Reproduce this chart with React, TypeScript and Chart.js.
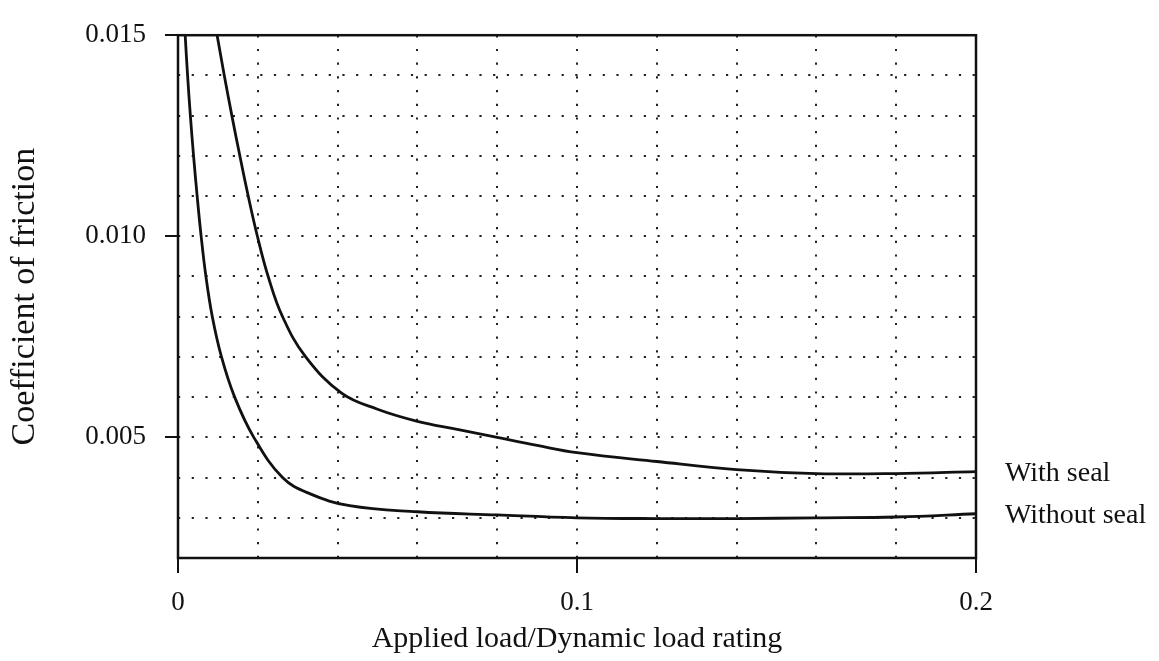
import React, { useEffect, useRef } from 'react';
import { Chart, registerables } from 'chart.js';

Chart.register(...registerables);

// Series: "With seal" (upper curve)
const withSealX = [0.0098, 0.0116, 0.0135, 0.0155, 0.0176, 0.0199, 0.0226, 0.0262, 0.0320, 0.0410, 0.050, 0.060, 0.070, 0.080, 0.090, 0.100, 0.120, 0.140, 0.160, 0.180, 0.200];
const withSealY = [0.0150, 0.0140, 0.0130, 0.0120, 0.0110, 0.0100, 0.0090, 0.0080, 0.0070, 0.0061, 0.0057, 0.0054, 0.0052, 0.0050, 0.0048, 0.00462, 0.0044, 0.0042, 0.0041, 0.0041, 0.00415];

// Series: "Without seal" (lower curve)
const withoutSealX = [0.0018, 0.0024, 0.0031, 0.0039, 0.0048, 0.0058, 0.0070, 0.0086, 0.0109, 0.0142, 0.0190, 0.0262, 0.033, 0.043, 0.060, 0.080, 0.100, 0.120, 0.140, 0.160, 0.180, 0.200];
const withoutSealY = [0.0150, 0.0140, 0.0130, 0.0120, 0.0110, 0.0100, 0.0090, 0.0080, 0.0070, 0.0060, 0.0050, 0.0040, 0.0036, 0.0033, 0.00315, 0.00307, 0.0030, 0.00298, 0.00298, 0.0030, 0.00302, 0.0031];

const seriesLabels = ['With seal', 'Without seal'];
const xTickLabels = ['0', '0.1', '0.2'];
const yTickLabels = ['0.005', '0.010', '0.015'];
const xTitle = 'Applied load/Dynamic load rating';
const yTitle = 'Coefficient of friction';

const X_MIN = 0;
const X_MAX = 0.2;
const X_STEP = 0.02;
const Y_MIN = 0.002;
const Y_MAX = 0.015;
const Y_STEP = 0.001;

const SERIF = '"Liberation Serif", "Times New Roman", serif';
const INK = '#111111';
const DOT = '#222222';

function findLabel(labels: string[], v: number): string {
  for (const l of labels) {
    if (Math.abs(parseFloat(l) - v) < 1e-9) return l;
  }
  return '';
}

const framePlugin = {
  id: 'frame',
  afterDraw(chart: any) {
    const { ctx, chartArea } = chart;
    ctx.save();
    ctx.strokeStyle = INK;
    ctx.lineWidth = 2.5;
    ctx.strokeRect(chartArea.left, chartArea.top, chartArea.right - chartArea.left, chartArea.bottom - chartArea.top);
    ctx.restore();
  },
};

const seriesLabelPlugin = {
  id: 'seriesLabels',
  afterDatasetsDraw(chart: any) {
    const { ctx, chartArea } = chart;
    ctx.save();
    ctx.font = `28px ${SERIF}`;
    ctx.fillStyle = INK;
    ctx.textAlign = 'left';
    ctx.textBaseline = 'middle';
    chart.data.datasets.forEach((ds: any, i: number) => {
      const meta = chart.getDatasetMeta(i);
      const last = meta.data[meta.data.length - 1];
      if (!last) return;
      ctx.fillText(ds.label, chartArea.right + 29, last.y + 2);
    });
    ctx.restore();
  },
};

export default function App() {
  const canvasRef = useRef<HTMLCanvasElement | null>(null);

  useEffect(() => {
    const canvas = canvasRef.current;
    if (!canvas) return;

    const chart = new Chart(canvas, {
      type: 'line',
      data: {
        datasets: [
          {
            label: seriesLabels[0],
            data: withSealX.map((x, i) => ({ x, y: withSealY[i] })),
            borderColor: INK,
            borderWidth: 2.8,
            pointRadius: 0,
            fill: false,
            tension: 0.4,
          },
          {
            label: seriesLabels[1],
            data: withoutSealX.map((x, i) => ({ x, y: withoutSealY[i] })),
            borderColor: INK,
            borderWidth: 2.8,
            pointRadius: 0,
            fill: false,
            tension: 0.4,
          },
        ],
      },
      options: {
        responsive: false,
        animation: false,
        events: [],
        layout: { padding: { left: 0, top: 26, right: 183, bottom: 0 } },
        plugins: {
          legend: { display: false },
          tooltip: { enabled: false },
          title: { display: false },
        },
        scales: {
          x: {
            type: 'linear',
            min: X_MIN,
            max: X_MAX,
            border: { display: false, dash: [2.2, 11.5] },
            grid: {
              color: DOT,
              lineWidth: 2,
              drawTicks: true,
              tickLength: 15,
              tickWidth: 2,
              tickColor: (ctx: any) => (ctx.tick && findLabel(xTickLabels, ctx.tick.value) ? INK : 'rgba(0,0,0,0)'),
            },
            ticks: {
              stepSize: X_STEP,
              autoSkip: false,
              maxRotation: 0,
              minRotation: 0,
              padding: 14,
              color: INK,
              font: { family: SERIF, size: 27 },
              callback: (v: any) => findLabel(xTickLabels, Number(v)),
            },
            title: {
              display: true,
              text: xTitle,
              color: INK,
              font: { family: SERIF, size: 30 },
              padding: { top: 0, bottom: 4 },
            },
            afterFit: (scale: any) => {
              scale.height = 661 - 558;
            },
          },
          y: {
            type: 'linear',
            min: Y_MIN,
            max: Y_MAX,
            border: { display: false, dash: [2.2, 11.5] },
            grid: {
              color: DOT,
              lineWidth: 2,
              drawTicks: true,
              tickLength: 13,
              tickWidth: 2,
              tickColor: (ctx: any) => (ctx.tick && findLabel(yTickLabels, ctx.tick.value) ? INK : 'rgba(0,0,0,0)'),
            },
            ticks: {
              stepSize: Y_STEP,
              autoSkip: false,
              padding: 19,
              color: INK,
              font: { family: SERIF, size: 27 },
              callback: (v: any) => findLabel(yTickLabels, Number(v)),
            },
            title: {
              display: true,
              text: yTitle,
              color: INK,
              font: { family: SERIF, size: 34 },
              padding: { top: 5, bottom: 0 },
            },
            afterFit: (scale: any) => {
              scale.width = 178;
            },
          },
        },
      },
      plugins: [framePlugin, seriesLabelPlugin],
    } as any);

    return () => {
      chart.destroy();
    };
  }, []);

  return (
    <div style={{ position: 'fixed', left: 0, top: 0, width: 1159, height: 661, background: '#ffffff' }}>
      <canvas ref={canvasRef} width={1159} height={661} style={{ display: 'block' }} />
    </div>
  );
}
